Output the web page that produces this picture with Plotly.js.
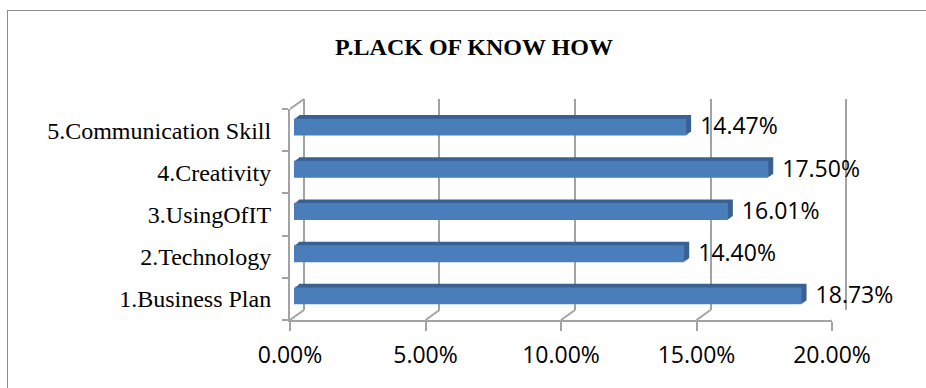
<!DOCTYPE html>
<html>
<head>
<meta charset="utf-8">
<script src="https://cdn.plot.ly/plotly-3.0.1.min.js"></script>
<style>
  html, body { margin: 0; padding: 0; background: #ffffff; }
  #wrap { position: relative; width: 926px; height: 388px; overflow: hidden; }
  #chart { position: absolute; left: 0; top: 0; width: 926px; height: 388px; }
  #frame { position: absolute; left: 7px; top: 10px; width: 920px; height: 400px;
           border: 1.5px solid #8c8c8c; box-sizing: border-box; pointer-events: none; }
</style>
</head>
<body>
<div id="wrap">
  <div id="chart"></div>
  <div id="frame"></div>
</div>
<script>
// ---- data ----
const chartTitle = 'P.LACK OF KNOW HOW';
const categories = ['1.Business Plan', '2.Technology', '3.UsingOfIT', '4.Creativity', '5.Communication Skill'];
const values = [0.1873, 0.1440, 0.1601, 0.1750, 0.1447];
const tickValues = [0, 0.05, 0.10, 0.15, 0.20];
const xRange = [0, 0.20];

// ---- geometry (pixels) ----
const L = 290, T = 95, W = 610, H = 225;
const FRONT_W = 542, FRONT_H = 211;
function dom(dx, dy) {
  return { x: [dx / W, (FRONT_W + dx) / W], y: [dy / H, (FRONT_H + dy) / H] };
}

const gray = '#a3a3a3';
const layout = {
  width: 926, height: 388,
  margin: { l: L, r: 926 - L - W, t: T, b: 388 - T - H, pad: 0 },
  paper_bgcolor: 'rgba(0,0,0,0)',
  plot_bgcolor: 'rgba(0,0,0,0)',
  showlegend: false,
  title: {
    text: '<b>' + chartTitle + '</b>',
    font: { family: 'Liberation Serif, Times New Roman, serif', size: 24, color: '#000' },
    xref: 'container', yref: 'container', x: 474 / 926, xanchor: 'center',
    y: 1 - 47 / 388, yanchor: 'middle'
  },
  shapes: []
};

function catAxis(d, extra) {
  return Object.assign({
    domain: d, type: 'category', categoryorder: 'array', categoryarray: categories,
    range: [-0.5, categories.length - 0.5], fixedrange: true
  }, extra || {});
}
function numAxis(d, extra) {
  return Object.assign({ domain: d, type: 'linear', range: xRange, fixedrange: true, zeroline: false }, extra || {});
}

const traces = [];

// front (floor + left wall front edge)
const f = dom(0, 0);
layout.xaxis = numAxis(f.x, {
  anchor: 'y', showgrid: false, showline: true, linecolor: gray, linewidth: 2,
  ticks: 'outside', ticklen: 9, tickwidth: 2, tickcolor: gray,
  tickvals: tickValues, tickformat: '.2%', ticklabelstandoff: 4,
  tickfont: { family: 'Open Sans, Liberation Sans, sans-serif', size: 23, color: '#000' }
});
layout.yaxis = catAxis(f.y, {
  anchor: 'x', showgrid: false, showline: true, linecolor: gray, linewidth: 2,
  ticks: 'outside', tickson: 'boundaries', ticklen: 6, tickwidth: 2, tickcolor: gray,
  ticklabelstandoff: 12,
  tickfont: { family: 'Liberation Serif, Times New Roman, serif', size: 24, color: '#000' }
});
traces.push({ type: 'scatter', mode: 'none', x: values, y: categories, xaxis: 'x', yaxis: 'y', hoverinfo: 'skip' });

// back wall gridlines (range padded slightly so the edge gridlines are kept)
const pad = 0.0005;
const pxPerUnit = FRONT_W / (xRange[1] - xRange[0]);
const b = dom(14, 10);
const bx = [b.x[0] - pad * pxPerUnit / W, b.x[1] + pad * pxPerUnit / W];
layout.xaxis2 = numAxis(bx, {
  anchor: 'y2', range: [xRange[0] - pad, xRange[1] + pad],
  showgrid: true, gridcolor: gray, gridwidth: 2, tickvals: tickValues,
  showticklabels: false, ticks: '', showline: false
});
layout.yaxis2 = catAxis(b.y, { anchor: 'x2', showgrid: false, showticklabels: false, ticks: '', showline: false });
traces.push({ type: 'scatter', mode: 'none', x: values, y: categories, xaxis: 'x2', yaxis: 'y2', hoverinfo: 'skip' });

// bar depth layers (far to near), then front faces, then labels
const depth = [4, 3, 2, 1];
let axN = 3;
depth.forEach(k => {
  const d = dom(4 + 1.25 * k, 3 + 0.9 * k);
  layout['xaxis' + axN] = numAxis(d.x, { anchor: 'y' + axN, visible: false });
  layout['yaxis' + axN] = catAxis(d.y, { anchor: 'x' + axN, visible: false });
  traces.push({
    type: 'bar', orientation: 'h', x: values, y: categories, width: 0.4,
    xaxis: 'x' + axN, yaxis: 'y' + axN,
    marker: { color: '#3a6193', line: { width: 0 } }, hoverinfo: 'skip'
  });
  axN++;
});
const fb = dom(4, 3);
layout['xaxis' + axN] = numAxis(fb.x, { anchor: 'y' + axN, visible: false });
layout['yaxis' + axN] = catAxis(fb.y, { anchor: 'x' + axN, visible: false });
traces.push({
  type: 'bar', orientation: 'h', x: values, y: categories, width: 0.4,
  xaxis: 'x' + axN, yaxis: 'y' + axN,
  marker: { color: '#4a7ebb', line: { width: 0 } }, hoverinfo: 'skip'
});
axN++;
const lb = dom(18, 1.5);
layout['xaxis' + axN] = numAxis(lb.x, { anchor: 'y' + axN, visible: false });
layout['yaxis' + axN] = catAxis(lb.y, { anchor: 'x' + axN, visible: false });
traces.push({
  type: 'scatter', mode: 'text', x: values, y: categories,
  xaxis: 'x' + axN, yaxis: 'y' + axN, cliponaxis: false,
  texttemplate: '%{x:.2%}', textposition: 'middle right',
  textfont: { family: 'Open Sans, Liberation Sans, sans-serif', size: 23, color: '#000' },
  hoverinfo: 'skip'
});

// 3D edges: floor diagonals at each tick, top of left wall
tickValues.forEach(v => {
  layout.shapes.push({
    type: 'line', xref: 'x', xsizemode: 'pixel', xanchor: v, x0: 0, x1: 14,
    yref: 'paper', ysizemode: 'pixel', yanchor: 0, y0: 0, y1: 10,
    line: { color: gray, width: 2 }
  });
});
layout.shapes.push({
  type: 'line', xref: 'x', xsizemode: 'pixel', xanchor: 0, x0: 0, x1: 14,
  yref: 'paper', ysizemode: 'pixel', yanchor: FRONT_H / H, y0: 0, y1: 10,
  line: { color: gray, width: 2 }
});

Plotly.newPlot('chart', traces, layout, { displayModeBar: false, staticPlot: true });
</script>
</body>
</html>
